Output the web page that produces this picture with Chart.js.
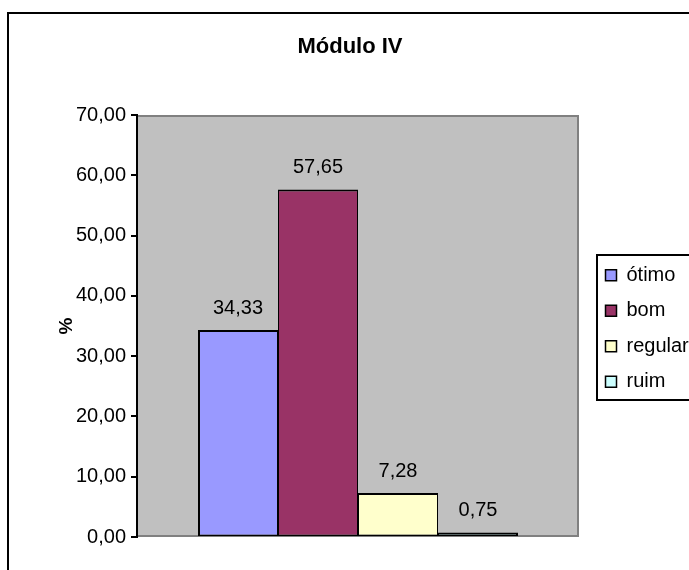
<!DOCTYPE html>
<html><head><meta charset="utf-8">
<script src="https://cdn.jsdelivr.net/npm/chart.js@4/dist/chart.umd.min.js"></script>
<style>
html,body{margin:0;padding:0;background:#fff;overflow:hidden;width:689px;height:570px;}
#wrap{position:absolute;left:0;top:0;width:720px;height:590px;}
</style></head><body>
<div id="wrap"><canvas id="c" width="720" height="590"></canvas></div>
<script>
const chartTitle = 'Módulo IV';
const categories = [''];
const seriesNames = ['ótimo', 'bom', 'regular', 'ruim'];
const otimoValues = [34.33];
const bomValues = [57.65];
const regularValues = [7.28];
const ruimValues = [0.75];
const yAxisTitle = '%';
const yMin = 0, yMax = 70, yStep = 10;

const seriesData = [otimoValues, bomValues, regularValues, ruimValues];
const seriesColors = ['#9999FF', '#993366', '#FFFFCC', '#CCFFFF'];
const FONT = "'Liberation Sans', Arial, Helvetica, sans-serif";
const fmt = v => Number(v).toFixed(2).replace('.', ',');

const decor = {
  id: 'decor',
  beforeDraw(chart) {
    const {ctx, chartArea: a} = chart;
    ctx.save();
    ctx.fillStyle = '#fff';
    ctx.fillRect(0, 0, chart.width, chart.height);
    ctx.strokeStyle = '#000';
    ctx.lineWidth = 2;
    ctx.strokeRect(8, 13, chart.width + 50, chart.height + 50);
    ctx.fillStyle = '#C0C0C0';
    ctx.fillRect(a.left, a.top, a.right - a.left, a.bottom - a.top);
    ctx.restore();
  },
  beforeDatasetsDraw(chart) {
    const {ctx, chartArea: a} = chart;
    ctx.save();
    ctx.strokeStyle = '#808080';
    ctx.lineWidth = 2;
    ctx.beginPath();
    ctx.moveTo(a.left + 1, a.top + 1);
    ctx.lineTo(a.right - 1, a.top + 1);
    ctx.lineTo(a.right - 1, a.bottom - 1);
    ctx.lineTo(a.left + 1, a.bottom - 1);
    ctx.stroke();
    ctx.restore();
  },
  afterDatasetsDraw(chart) {
    const {ctx} = chart;
    ctx.save();
    ctx.fillStyle = '#000';
    ctx.font = "20px " + FONT;
    ctx.textAlign = 'center';
    ctx.textBaseline = 'middle';
    chart.data.datasets.forEach((ds, i) => {
      const meta = chart.getDatasetMeta(i);
      meta.data.forEach((bar, j) => {
        ctx.fillText(fmt(ds.data[j]), bar.x, bar.y - 22);
      });
    });
    ctx.restore();
  },
  afterDraw(chart) {
    const lg = chart.legend;
    if (!lg || !lg.legendHitBoxes || !lg.legendHitBoxes.length) return;
    const hb = lg.legendHitBoxes;
    const f = hb[0], l = hb[hb.length - 1];
    const top = f.top + f.height / 2 - 20;
    const bottom = l.top + l.height / 2 + 18;
    const left = f.left - 9;
    const {ctx} = chart;
    ctx.save();
    ctx.strokeStyle = '#000';
    ctx.lineWidth = 2;
    ctx.strokeRect(Math.round(left), Math.round(top), chart.width, Math.round(bottom - top));
    ctx.restore();
  }
};

const n = seriesNames.length;
new Chart(document.getElementById('c'), {
  type: 'bar',
  data: {
    labels: categories,
    datasets: seriesNames.map((name, i) => ({
      label: name,
      data: seriesData[i],
      backgroundColor: seriesColors[i],
      borderColor: '#000',
      borderWidth: {top: 2, bottom: 1.5, left: i === 0 ? 2 : 1, right: i === n - 1 ? 2 : 1},
      borderSkipped: false,
      categoryPercentage: 0.724,
      barPercentage: 1
    }))
  },
  options: {
    responsive: false,
    animation: false,
    devicePixelRatio: 1,
    layout: {padding: {left: 10, right: 30, top: 0, bottom: 53}},
    scales: {
      x: {display: false},
      y: {
        min: yMin, max: yMax,
        ticks: {stepSize: yStep, callback: v => fmt(v), font: {family: FONT, size: 20}, color: '#000', padding: 5},
        grid: {drawOnChartArea: false, drawTicks: true, tickLength: 6, color: '#000', lineWidth: 2},
        border: {display: true, color: '#000', width: 2},
        title: {display: true, text: yAxisTitle, color: '#000', font: {family: FONT, size: 19, weight: 'bold', lineHeight: 1.2}, padding: {top: 45, bottom: 0}},
        afterFit(s) { s.width = 127; }
      },
      yR: {
        type: 'linear', position: 'right', display: true,
        grid: {display: false}, border: {display: false}, ticks: {display: false},
        afterFit(s) { s.width = 11; }
      }
    },
    plugins: {
      tooltip: {enabled: false},
      title: {
        display: true, text: chartTitle, color: '#000',
        font: {family: FONT, size: 22, weight: 'bold', lineHeight: 1.2},
        padding: {top: 34, bottom: 54.6}
      },
      legend: {
        position: 'right', align: 'center', fullSize: false, maxWidth: 100,
        title: {display: true, text: ' ', font: {size: 5, lineHeight: 1}, padding: 0},
        labels: {
          boxWidth: 11, boxHeight: 11, padding: 15.5, color: '#000',
          font: {family: FONT, size: 20},
          generateLabels(chart) {
            const items = Chart.defaults.plugins.legend.labels.generateLabels(chart);
            items.forEach(it => { it.lineWidth = 1.5; it.strokeStyle = '#000'; });
            return items;
          }
        }
      }
    }
  },
  plugins: [decor]
});
</script>
</body></html>
